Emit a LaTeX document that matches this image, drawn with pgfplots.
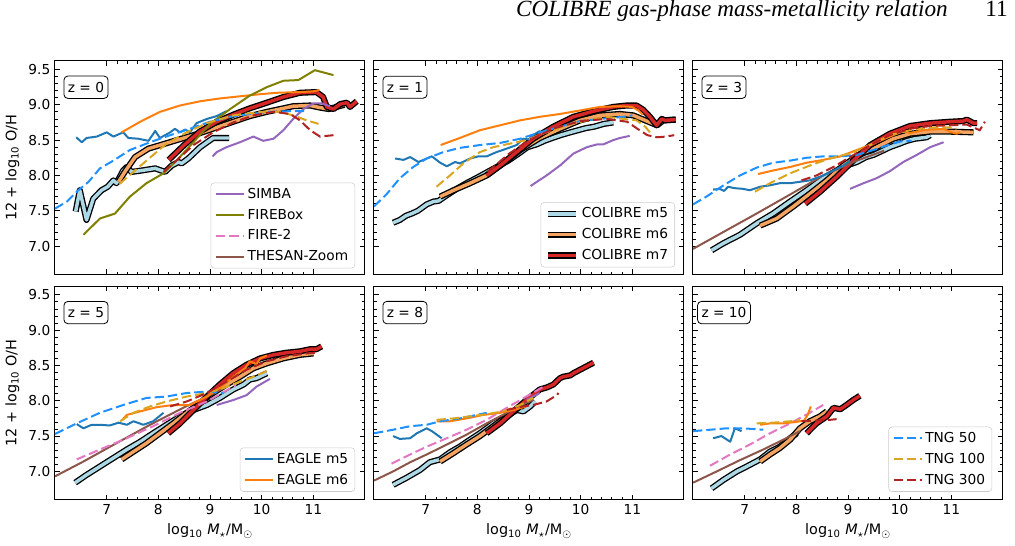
\documentclass[border=0pt]{standalone}
\usepackage{fontspec}
\setmainfont{DejaVu Sans}
\newfontfamily\timesfont{Liberation Serif}
\usepackage{pgfplots}
\pgfplotsset{compat=1.18}
\usepgfplotslibrary{groupplots}

\definecolor{cE5}{HTML}{1F77B4}
\definecolor{cE6}{HTML}{FF7F0E}
\definecolor{cSIM}{HTML}{9467BD}
\definecolor{cFB}{HTML}{808000}
\definecolor{cF2}{HTML}{E377C2}
\definecolor{cTH}{HTML}{8C564B}
\definecolor{cT50}{HTML}{1E90FF}
\definecolor{cT100}{HTML}{DAA520}
\definecolor{cT300}{HTML}{B22222}
\definecolor{cC5}{HTML}{ADD8E6}
\definecolor{cC6}{HTML}{F4A460}
\definecolor{cC7}{HTML}{D62728}

\newcommand{\lfont}{\fontsize{10.3}{12}\selectfont}

\tikzset{
  sE5/.style={cE5, line width=1.5pt, line join=round},
  sE6/.style={cE6, line width=1.5pt, line join=round},
  sSIM/.style={cSIM, line width=1.5pt, line join=round},
  sFB/.style={cFB, line width=1.5pt, line join=round},
  sF2/.style={cF2, line width=1.5pt, dash pattern=on 7pt off 3pt},
  sTH/.style={cTH, line width=1.5pt},
  sT50/.style={cT50, line width=1.5pt, dash pattern=on 7pt off 3pt},
  sT100/.style={cT100, line width=1.5pt, dash pattern=on 7pt off 3pt},
  sT300/.style={cT300, line width=1.5pt, dash pattern=on 7pt off 3pt},
  zbox/.style={draw=black, line width=0.6pt, rounded corners=3pt, fill=white,
    anchor=center, inner xsep=3pt, inner ysep=4.5pt, font=\lfont},
}
\pgfplotsset{
  collegend/.style={legend image code/.code={
     \draw[black, line width=4.8pt] (0pt,0pt) -- (21pt,0pt);
     \draw[#1, line width=2.6pt] (0pt,0pt) -- (21pt,0pt);}},
}

\newcommand{\colibre}[2]{%
  \addplot[black, line width=4.6pt, line join=round, forget plot] coordinates {#2};
  \addplot[#1, line width=2.6pt, line join=round, forget plot] coordinates {#2};
}

\begin{document}
\begin{tikzpicture}
\begin{groupplot}[
  group style={group size=3 by 2, horizontal sep=6.75pt, vertical sep=9pt,
    xticklabels at=edge bottom, yticklabels at=edge left,
    xlabels at=edge bottom, ylabels at=edge left},
  width=232.5pt, height=160pt, scale only axis,
  xmin=6, xmax=12, ymin=6.6, ymax=9.62,
  xtick={7,8,9,10,11}, ytick={7,7.5,8,8.5,9,9.5},
  minor x tick num=4, minor y tick num=4,
  tick align=inside, major tick length=3.75pt, minor tick length=2pt,
  every tick/.style={black, line width=0.6pt},
  axis line style={line width=0.75pt},
  tick label style={font=\lfont},
  /pgf/number format/assume math mode=true,
  yticklabel style={/pgf/number format/fixed, /pgf/number format/fixed zerofill, /pgf/number format/precision=1},
  label style={font=\fontsize{10.8}{12}\selectfont},
  ylabel={12 + log\textsubscript{10} O/H},
  xlabel={log\textsubscript{10} \textit{M}\textsubscript{$\star$}/M\textsubscript{$\odot$}},
  legend cell align=left,
  legend style={font=\lfont, draw=black!20, rounded corners=2.5pt, fill=white,
    fill opacity=0.8, text opacity=1, draw opacity=1, inner xsep=3pt, inner ysep=2pt,
    row sep=2.5pt},
  legend image code/.code={\draw[#1] (0pt,0pt) -- (21pt,0pt);},
]
% ---------------- z = 0
\nextgroupplot[legend style={at={(0.968,0.028)}, anchor=south east}]
\colibre{cC5}{(6.40,7.49) (6.48,7.79) (6.61,7.37) (6.74,7.67) (6.90,7.79) (7.02,7.84) (7.13,7.93) (7.19,7.89) (7.32,8.07) (7.39,8.12) (7.48,8.05) (7.68,8.07) (7.94,8.10) (8.13,8.05) (8.26,8.14) (8.39,8.19) (8.45,8.17) (8.58,8.24) (8.81,8.40) (9.06,8.53) (9.37,8.53)}
\colibre{cC6}{(7.23,7.91) (7.35,8.05) (7.55,8.26) (7.81,8.38) (8.13,8.45) (8.45,8.52) (8.77,8.59) (9.13,8.68) (9.45,8.76) (9.77,8.84) (10.10,8.90) (10.42,8.95) (10.61,8.98) (10.94,8.99) (11.13,8.96) (11.30,8.94) (11.45,8.97) (11.60,9.00)}
\colibre{cC7}{(8.20,8.22) (8.50,8.43) (8.80,8.62) (9.13,8.76) (9.45,8.86) (9.77,8.95) (10.10,9.03) (10.42,9.11) (10.74,9.17) (11.06,9.18) (11.19,9.11) (11.26,8.97) (11.39,8.94) (11.52,9.01) (11.65,9.03) (11.71,8.97) (11.84,9.05)}
\addplot[sE5, forget plot] coordinates {(6.41,8.54) (6.52,8.47) (6.61,8.53) (6.81,8.55) (7.00,8.61) (7.13,8.55) (7.32,8.61) (7.42,8.53) (7.61,8.52) (7.81,8.49) (7.94,8.63) (8.03,8.53) (8.23,8.61) (8.32,8.66) (8.42,8.61) (8.52,8.65) (8.61,8.61) (8.74,8.74) (8.94,8.80) (9.13,8.84) (9.32,8.91)};
\addplot[sE6, forget plot] coordinates {(7.29,8.61) (7.65,8.76) (8.03,8.90) (8.42,8.99) (8.81,9.05) (9.19,9.09) (9.58,9.12) (9.97,9.15) (10.29,9.17) (10.74,9.18) (11.00,9.19) (11.12,9.21)};
\addplot[sSIM, forget plot] coordinates {(9.05,8.27) (9.13,8.33) (9.32,8.40) (9.58,8.47) (9.84,8.55) (10.03,8.49) (10.23,8.52) (10.42,8.64) (10.61,8.80) (10.81,8.94) (11.00,9.02) (11.16,9.02) (11.32,8.98)};
\addplot[sFB, forget plot] coordinates {(6.55,7.16) (6.87,7.39) (7.16,7.46) (7.45,7.70) (7.77,7.89) (8.10,8.03) (8.35,8.21) (8.68,8.47) (9.00,8.73) (9.39,8.94) (9.77,9.13) (10.10,9.25) (10.42,9.34) (10.71,9.35) (11.03,9.49) (11.39,9.42)};
\addplot[sT50, forget plot] coordinates {(6.00,7.53) (6.23,7.63) (6.45,7.79) (6.65,7.91) (6.87,8.10) (7.13,8.21) (7.45,8.36) (7.84,8.47) (8.23,8.57) (8.61,8.66) (9.00,8.76) (9.39,8.83) (9.77,8.87) (10.16,8.90) (10.55,8.91) (10.90,8.91)};
\addplot[sT100, forget plot] coordinates {(7.25,7.88) (7.77,8.21) (8.16,8.45) (8.55,8.61) (8.94,8.74) (9.45,8.85) (9.97,8.90) (10.35,8.90) (10.61,8.85) (10.87,8.78) (11.10,8.73)};
\addplot[sT300, forget plot] coordinates {(8.10,8.05) (8.35,8.21) (8.68,8.43) (9.06,8.61) (9.45,8.75) (9.84,8.85) (10.23,8.90) (10.55,8.87) (10.74,8.78) (10.94,8.64) (11.13,8.55) (11.39,8.57)};
\addlegendimage{sSIM}\addlegendentry{SIMBA}
\addlegendimage{sFB}\addlegendentry{FIREBox}
\addlegendimage{sF2}\addlegendentry{FIRE-2}
\addlegendimage{sTH}\addlegendentry{THESAN-Zoom}
\node[zbox] at (rel axis cs:0.1,0.877) {z = 0};
% ---------------- z = 1
\nextgroupplot[legend style={at={(0.971,0.033)}, anchor=south east}]
\colibre{cC5}{(6.37,7.33) (6.50,7.37) (6.62,7.43) (6.73,7.46) (6.85,7.50) (7.02,7.59) (7.15,7.63) (7.25,7.64) (7.41,7.72) (7.60,7.81) (7.79,7.89) (8.00,7.97) (8.15,8.03) (8.30,8.09) (8.45,8.15) (8.60,8.21) (8.80,8.31) (8.97,8.40) (9.15,8.44) (9.30,8.49) (9.45,8.53) (9.61,8.57) (9.80,8.61) (9.95,8.64) (10.10,8.67) (10.26,8.69) (10.45,8.73) (10.63,8.75)}
\colibre{cC6}{(7.28,7.70) (7.54,7.79) (7.86,7.89) (8.18,8.00) (8.50,8.17) (8.83,8.36) (9.21,8.53) (9.60,8.66) (9.99,8.78) (10.37,8.85) (10.76,8.87) (11.02,8.85) (11.28,8.77) (11.48,8.71) (11.60,8.78) (11.84,8.79)}
\colibre{cC7}{(8.18,8.00) (8.44,8.14) (8.76,8.33) (9.08,8.52) (9.47,8.69) (9.86,8.83) (10.25,8.91) (10.63,8.97) (10.89,8.99) (11.08,8.99) (11.21,8.93) (11.34,8.83) (11.47,8.71) (11.57,8.80) (11.63,8.78) (11.84,8.79)}
\addplot[sE5, forget plot] coordinates {(6.41,8.24) (6.57,8.22) (6.70,8.26) (6.86,8.19) (7.12,8.27) (7.28,8.18) (7.41,8.13) (7.57,8.19) (7.66,8.17) (7.86,8.24) (8.02,8.27) (8.18,8.27) (8.37,8.33) (8.57,8.38) (8.76,8.43) (8.89,8.52) (8.99,8.51) (9.08,8.57) (9.21,8.63)};
\addplot[sE6, forget plot] coordinates {(7.29,8.43) (7.66,8.53) (8.05,8.64) (8.44,8.71) (8.83,8.78) (9.21,8.83) (9.60,8.87) (9.99,8.92) (10.37,8.97) (10.76,8.98) (10.99,8.97) (11.12,8.92) (11.20,8.86)};
\addplot[sSIM, forget plot] coordinates {(9.03,7.85) (9.34,8.00) (9.60,8.14) (9.86,8.31) (10.12,8.40) (10.32,8.44) (10.44,8.44) (10.63,8.50) (10.76,8.53) (10.95,8.56)};
\addplot[sT50, forget plot] coordinates {(6.00,7.56) (6.25,7.74) (6.50,7.96) (6.76,8.12) (7.02,8.24) (7.34,8.33) (7.66,8.39) (8.05,8.43) (8.44,8.46) (8.83,8.52) (9.21,8.61) (9.60,8.69) (9.99,8.77) (10.37,8.80) (10.83,8.83) (11.00,8.85)};
\addplot[sT100, forget plot] coordinates {(7.21,7.84) (7.47,8.00) (7.73,8.17) (8.05,8.33) (8.31,8.40) (8.63,8.45) (8.95,8.50) (9.34,8.61) (9.73,8.71) (10.12,8.78) (10.50,8.83) (10.83,8.80) (11.08,8.78) (11.25,8.69) (11.34,8.61)};
\addplot[sT300, forget plot] coordinates {(8.20,8.05) (8.60,8.30) (9.00,8.50) (9.50,8.67) (10.00,8.77) (10.50,8.80) (10.90,8.76) (11.10,8.66) (11.29,8.57) (11.48,8.54) (11.65,8.55) (11.81,8.57)};
\addlegendimage{collegend=cC5}\addlegendentry{COLIBRE m5}
\addlegendimage{collegend=cC6}\addlegendentry{COLIBRE m6}
\addlegendimage{collegend=cC7}\addlegendentry{COLIBRE m7}
\node[zbox] at (rel axis cs:0.1,0.877) {z = 1};
% ---------------- z = 3
\nextgroupplot
\colibre{cC5}{(6.36,6.94) (6.59,7.04) (6.91,7.16) (7.23,7.32) (7.55,7.46) (7.88,7.63) (8.20,7.79) (8.52,7.96) (8.85,8.10) (8.97,8.14) (9.17,8.19) (9.35,8.26) (9.49,8.29) (9.61,8.33) (9.81,8.40) (10.00,8.45) (10.14,8.49) (10.30,8.52) (10.52,8.54) (10.59,8.57)}
\colibre{cC6}{(7.30,7.29) (7.62,7.39) (7.94,7.56) (8.26,7.74) (8.59,7.93) (8.91,8.14) (9.23,8.30) (9.55,8.40) (9.88,8.52) (10.20,8.59) (10.59,8.62) (10.97,8.62) (11.43,8.61)}
\colibre{cC7}{(8.17,7.60) (8.46,7.77) (8.78,7.98) (9.10,8.21) (9.43,8.43) (9.81,8.59) (10.20,8.70) (10.59,8.74) (10.97,8.76) (11.23,8.77) (11.30,8.79) (11.43,8.74) (11.50,8.74)}
\addplot[sTH, forget plot] coordinates {(6.00,6.96) (6.59,7.20) (7.23,7.46) (7.88,7.73) (8.52,8.00) (9.17,8.21) (9.70,8.35)};
\addplot[sE5, forget plot] coordinates {(6.39,7.80) (6.52,7.81) (6.60,7.78) (6.68,7.84) (6.80,7.82) (6.97,7.81) (7.10,7.79) (7.30,7.84) (7.49,7.86) (7.68,7.89) (7.88,7.89) (8.07,7.91) (8.26,7.93) (8.52,8.00) (8.72,8.07) (8.91,8.14) (9.04,8.21)};
\addplot[sE6, forget plot] coordinates {(7.26,8.02) (7.55,8.07) (7.88,8.12) (8.20,8.18) (8.52,8.22) (8.85,8.27) (9.17,8.36) (9.49,8.45) (9.81,8.55) (10.07,8.63) (10.20,8.60) (10.46,8.64) (10.65,8.65) (10.85,8.66) (10.97,8.62) (11.10,8.59) (11.17,8.61)};
\addplot[sSIM, forget plot] coordinates {(9.04,7.81) (9.30,7.89) (9.55,7.96) (9.81,8.06) (10.07,8.19) (10.33,8.29) (10.59,8.40) (10.85,8.47)};
\addplot[sT50, forget plot] coordinates {(6.00,7.59) (6.26,7.70) (6.59,7.86) (6.91,8.00) (7.23,8.11) (7.55,8.18) (7.88,8.21) (8.20,8.25) (8.52,8.27) (8.85,8.27) (9.17,8.29) (9.49,8.36) (9.81,8.44) (10.07,8.49) (10.23,8.49)};
\addplot[sT100, forget plot] coordinates {(7.20,7.77) (7.49,7.89) (7.88,8.03) (8.26,8.14) (8.65,8.24) (9.04,8.31) (9.43,8.43) (9.81,8.57) (10.20,8.64) (10.59,8.68) (10.97,8.68) (11.10,8.66)};
\addplot[sT300, forget plot] coordinates {(8.10,7.93) (8.39,8.00) (8.72,8.12) (9.04,8.26) (9.43,8.43) (9.81,8.57) (10.20,8.66) (10.59,8.70) (10.97,8.71) (11.30,8.72) (11.55,8.64) (11.65,8.76)};
\node[zbox] at (rel axis cs:0.1,0.877) {z = 3};
% ---------------- z = 5
\nextgroupplot[legend style={at={(0.968,0.037)}, anchor=south east}]
\colibre{cC5}{(6.39,6.84) (6.61,6.95) (6.87,7.07) (7.13,7.19) (7.39,7.31) (7.65,7.42) (7.90,7.54) (8.16,7.66) (8.42,7.78) (8.68,7.87) (8.94,7.94) (9.19,8.04) (9.45,8.16) (9.65,8.23) (9.77,8.30) (9.90,8.32) (10.10,8.39)}
\colibre{cC6}{(7.29,7.17) (7.52,7.28) (7.77,7.40) (8.03,7.54) (8.29,7.68) (8.55,7.83) (8.81,7.97) (9.06,8.11) (9.32,8.23) (9.58,8.34) (9.84,8.46) (10.10,8.53) (10.42,8.60) (10.74,8.65) (11.00,8.67)}
\colibre{cC7}{(8.19,7.54) (8.42,7.68) (8.68,7.87) (8.94,8.06) (9.19,8.23) (9.45,8.39) (9.71,8.51) (9.97,8.60) (10.23,8.65) (10.48,8.68) (10.74,8.70) (10.94,8.73) (11.06,8.73) (11.16,8.77)}
\addplot[sTH, forget plot] coordinates {(6.00,6.93) (6.55,7.14) (7.19,7.40) (7.84,7.66) (8.48,7.90) (8.94,8.06) (9.32,8.20)};
\addplot[sF2, forget plot] coordinates {(6.42,7.17) (6.87,7.31) (7.39,7.47) (7.90,7.64) (8.42,7.83) (8.94,7.99) (9.50,8.22)};
\addplot[sE5, forget plot] coordinates {(6.42,7.67) (6.55,7.61) (6.71,7.66) (6.87,7.66) (7.06,7.65) (7.23,7.69) (7.39,7.66) (7.52,7.71) (7.71,7.66) (7.90,7.71) (8.10,7.83)};
\addplot[sE6, forget plot] coordinates {(7.29,7.72) (7.39,7.80) (7.65,7.85) (7.97,7.91) (8.29,7.94) (8.61,7.94) (8.94,8.06) (9.19,8.18) (9.45,8.34) (9.68,8.46) (9.77,8.56) (9.90,8.52) (9.97,8.60) (10.10,8.64)};
\addplot[sSIM, forget plot] coordinates {(9.13,7.94) (9.45,8.01) (9.71,8.08) (9.90,8.20) (10.16,8.31)};
\addplot[sT50, forget plot] coordinates {(6.00,7.53) (6.42,7.68) (6.87,7.83) (7.32,7.94) (7.77,8.04) (8.16,8.06) (8.55,8.11) (8.94,8.13) (9.25,8.11)};
\addplot[sT100, forget plot] coordinates {(7.26,7.71) (7.52,7.83) (7.84,7.92) (8.16,7.99) (8.55,8.06) (8.94,8.11) (9.26,8.18) (9.58,8.27) (9.84,8.34) (10.10,8.42)};
\addplot[sT300, forget plot] coordinates {(8.23,7.92) (8.55,7.99) (8.94,8.11) (9.32,8.27) (9.71,8.44) (10.10,8.56) (10.48,8.63) (10.87,8.67) (11.03,8.68)};
\addlegendimage{sE5}\addlegendentry{EAGLE m5}
\addlegendimage{sE6}\addlegendentry{EAGLE m6}
\node[zbox] at (rel axis cs:0.1,0.877) {z = 5};
% ---------------- z = 8
\nextgroupplot
\colibre{cC5}{(6.37,6.81) (6.63,6.91) (6.89,7.02) (7.08,7.13) (7.28,7.17) (7.47,7.27) (7.66,7.35) (7.86,7.45) (8.05,7.54) (8.31,7.68) (8.57,7.78) (8.76,7.87) (8.89,7.85) (9.02,7.92) (9.12,7.99)}
\colibre{cC6}{(7.28,7.14) (7.54,7.26) (7.79,7.38) (8.05,7.50) (8.31,7.64) (8.57,7.78) (8.83,7.92) (9.02,8.04)}
\colibre{cC7}{(8.18,7.54) (8.44,7.68) (8.70,7.85) (8.95,8.01) (9.21,8.16) (9.35,8.19) (9.47,8.23) (9.60,8.32) (9.66,8.34) (9.80,8.36) (9.86,8.39) (9.99,8.44) (10.12,8.49) (10.25,8.54)}
\addplot[sTH, forget plot] coordinates {(6.00,6.87) (6.37,7.00) (6.70,7.13) (7.02,7.24) (7.41,7.38) (7.79,7.52) (8.18,7.68) (8.57,7.83) (8.95,7.97) (9.08,8.01)};
\addplot[sF2, forget plot] coordinates {(6.34,7.11) (6.70,7.24) (7.02,7.35) (7.41,7.47) (7.79,7.59) (8.18,7.73) (8.57,7.90) (8.95,8.06) (9.28,8.20)};
\addplot[sE5, forget plot] coordinates {(6.37,7.50) (6.50,7.46) (6.70,7.47) (6.83,7.54) (7.02,7.61) (7.12,7.57) (7.31,7.47)};
\addplot[sE6, forget plot] coordinates {(7.21,7.71) (7.47,7.71) (7.79,7.75) (8.12,7.80) (8.44,7.83) (8.70,7.87) (8.95,7.92)};
\addplot[sSIM, forget plot] coordinates {(8.95,8.01) (9.21,8.11)};
\addplot[sT50, forget plot] coordinates {(6.00,7.54) (6.37,7.59) (6.70,7.64) (7.02,7.66) (7.28,7.71) (7.66,7.75) (7.99,7.80) (8.18,7.83)};
\addplot[sT100, forget plot] coordinates {(7.21,7.73) (7.54,7.75) (7.86,7.78) (8.18,7.81) (8.50,7.85) (8.83,7.94) (9.08,8.04)};
\addplot[sT300, forget plot] coordinates {(8.57,7.87) (8.89,7.92) (9.08,7.94) (9.34,7.99) (9.54,8.08) (9.57,8.11)};
\node[zbox] at (rel axis cs:0.1,0.877) {z = 8};
% ---------------- z = 10
\nextgroupplot[legend style={at={(0.965,0.037)}, anchor=south east}]
\colibre{cC5}{(6.36,6.76) (6.59,6.88) (6.85,7.00) (7.04,7.07) (7.30,7.17) (7.49,7.28) (7.68,7.35) (7.88,7.47) (8.01,7.54)}
\colibre{cC6}{(7.30,7.14) (7.49,7.24) (7.68,7.33) (7.88,7.45) (8.07,7.61) (8.26,7.71) (8.46,7.78) (8.59,7.85)}
\colibre{cC7}{(8.20,7.54) (8.39,7.68) (8.59,7.78) (8.72,7.90) (8.85,7.88) (8.97,7.94) (9.10,8.01) (9.23,8.07)}
\addplot[sTH, forget plot] coordinates {(6.00,6.84) (6.46,7.00) (6.91,7.16) (7.36,7.31) (7.75,7.45) (8.07,7.57)};
\addplot[sF2, forget plot] coordinates {(6.33,7.08) (6.72,7.24) (7.10,7.38) (7.49,7.54) (7.88,7.68) (8.26,7.83) (8.52,7.94)};
\addplot[sE5, forget plot] coordinates {(6.39,7.47) (6.55,7.50) (6.72,7.42) (6.81,7.61) (6.94,7.57)};
\addplot[sE6, forget plot] coordinates {(7.30,7.66) (7.49,7.68) (7.75,7.68) (8.00,7.70) (8.15,7.72) (8.22,7.80) (8.28,7.92)};
\addplot[sT50, forget plot] coordinates {(6.00,7.57) (6.33,7.59) (6.65,7.61) (6.97,7.61) (7.36,7.59)};
\addplot[sT100, forget plot] coordinates {(7.23,7.68) (7.55,7.69) (7.88,7.71) (8.07,7.73)};
\addplot[sT300, forget plot] coordinates {(8.10,7.71) (8.39,7.72) (8.65,7.73) (8.78,7.74)};
\addlegendimage{sT50}\addlegendentry{TNG 50}
\addlegendimage{sT100}\addlegendentry{TNG 100}
\addlegendimage{sT300}\addlegendentry{TNG 300}
\node[zbox] at (rel axis cs:0.1,0.877) {z = 10};
\end{groupplot}
\node[anchor=base east, inner sep=0pt, font=\timesfont\itshape\fontsize{17.4}{20}\selectfont]
  at ([shift={(669.75pt,33pt)}]group c1r1.north west) {COLIBRE gas-phase mass-metallicity relation};
\node[anchor=base east, inner sep=0pt, font=\timesfont\fontsize{17.4}{20}\selectfont]
  at ([shift={(714.75pt,33pt)}]group c1r1.north west) {11};
\pgfresetboundingbox
\path[use as bounding box] ([shift={(-41.25pt,45.75pt)}]group c1r1.north west) rectangle ([shift={(720pt,-363.75pt)}]group c1r1.north west);
\end{tikzpicture}
\end{document}
